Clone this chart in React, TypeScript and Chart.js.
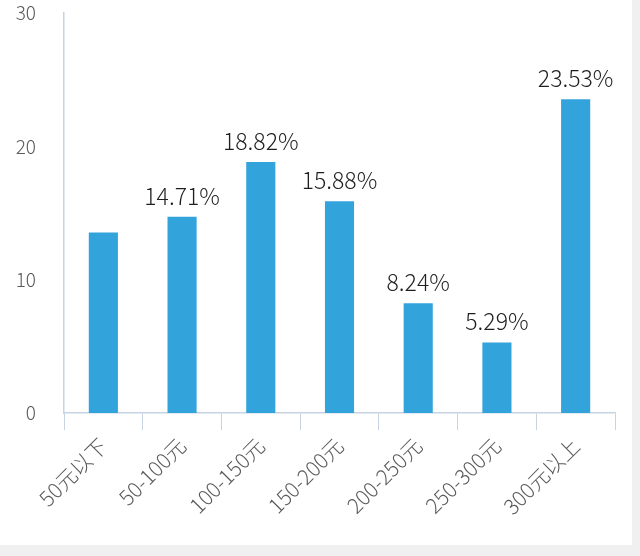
import React, { useEffect, useRef } from "react";
import { Chart, registerables } from "chart.js";

Chart.register(...registerables);

const categories = ["50元以下", "50-100元", "100-150元", "150-200元", "200-250元", "250-300元", "300元以上"];
const values = [13.53, 14.71, 18.82, 15.88, 8.24, 5.29, 23.53];
const valueLabels = ["", "14.71%", "18.82%", "15.88%", "8.24%", "5.29%", "23.53%"];
const yTicks = [0, 10, 20, 30];

const BAR_COLOR = "#33a3dc";
const AXIS_COLOR = "#c5d3e2";
const FONT = "'Noto Sans CJK SC', 'Noto Sans', sans-serif";

const valueLabelPlugin = {
  id: "valueLabels",
  afterDatasetsDraw(chart: any) {
    const ctx = chart.ctx;
    const meta = chart.getDatasetMeta(0);
    ctx.save();
    ctx.font = `300 23px ${FONT}`;
    ctx.fillStyle = "#1f1f1f";
    ctx.textAlign = "center";
    ctx.textBaseline = "alphabetic";
    meta.data.forEach((bar: any, i: number) => {
      const t = valueLabels[i];
      if (!t) return;
      ctx.fillText(t, bar.x, bar.y - 12);
    });
    ctx.restore();
  },
};

export default function App() {
  const ref = useRef<HTMLCanvasElement>(null);
  useEffect(() => {
    document.body.style.margin = "0";
    document.body.style.background = "#f0f0f0";
    const chart = new Chart(ref.current!, {
      type: "bar",
      data: {
        labels: categories,
        datasets: [
          {
            data: values,
            backgroundColor: BAR_COLOR,
            categoryPercentage: 1,
            barPercentage: 0.37,
          },
        ],
      },
      options: {
        animation: false,
        responsive: false,
        maintainAspectRatio: false,
        layout: { padding: { top: 13, right: 17, left: 1, bottom: 0 } },
        plugins: { legend: { display: false }, tooltip: { enabled: false } },
        scales: {
          x: {
            grid: {
              display: true,
              drawOnChartArea: false,
              drawTicks: true,
              tickLength: 17,
              color: AXIS_COLOR,
              offset: true,
            },
            border: { display: true, color: AXIS_COLOR, width: 1.5 },
            ticks: {
              minRotation: 45,
              maxRotation: 45,
              color: "#5a5a5a",
              font: { family: FONT, size: 21, weight: "300" as any },
              padding: 3,
            },
            afterFit: (s: any) => {
              s.height = 132;
              s.paddingLeft = 0;
              s.paddingRight = 0;
              s.paddingTop = 0;
              s.paddingBottom = 0;
            },
          },
          y: {
            min: 0,
            max: 30,
            afterBuildTicks: (s: any) => {
              s.ticks = yTicks.map((v) => ({ value: v }));
            },
            grid: { display: false, drawTicks: false },
            border: { display: true, color: AXIS_COLOR, width: 1.5 },
            ticks: {
              color: "#5a5a5a",
              font: { family: FONT, size: 19, weight: "300" as any },
              padding: 28,
            },
            afterFit: (s: any) => {
              s.width = 63;
              s.paddingTop = 0;
              s.paddingBottom = 0;
            },
          },
        },
      },
      plugins: [valueLabelPlugin],
    });
    return () => chart.destroy();
  }, []);
  return (
    <div style={{ position: "absolute", left: 0, top: 0, width: 632, height: 545, background: "#ffffff" }}>
      <canvas ref={ref} width={632} height={545} style={{ display: "block" }} />
    </div>
  );
}
